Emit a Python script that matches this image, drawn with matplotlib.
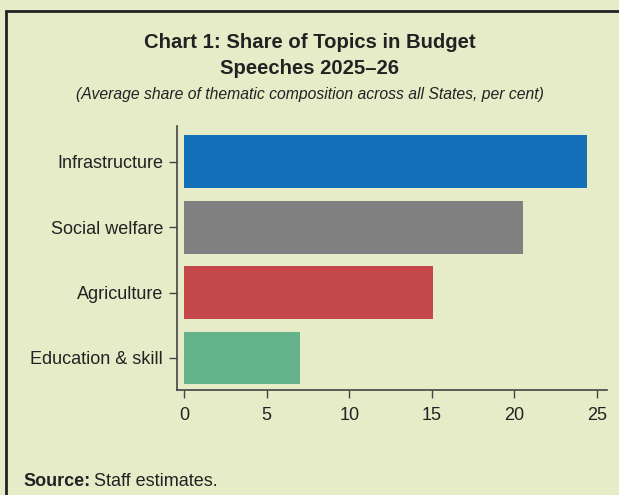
import matplotlib.pyplot as plt
from matplotlib.patches import Rectangle

plt.rcParams['font.family'] = ['Liberation Sans', 'DejaVu Sans']

temas = ['Education & skill', 'Agriculture', 'Social welfare', 'Infrastructure']
participacion = [7.0, 15.1, 20.5, 24.4]
colores = ['#65B38B', '#C4474A', '#808080', '#1370B9']
xticks = [0, 5, 10, 15, 20, 25]

fondo = '#E6EBC8'
texto = '#222222'

fig = plt.figure(figsize=(6.19, 4.95), dpi=100, facecolor=fondo)

# marco exterior del recuadro
fig.add_artist(Rectangle((6 / 619, -0.1), 1.2, (495 - 11) / 495 + 0.1,
                         transform=fig.transFigure, fill=False,
                         edgecolor='#222222', linewidth=2))

ax = fig.add_axes([177 / 619, (495 - 390) / 495, (607 - 177) / 619, (390 - 126) / 495])
ax.set_facecolor(fondo)
ax.barh(range(len(temas)), participacion, height=0.81, color=colores)

ax.set_xlim(-0.42, 25.6)
ax.set_ylim(-0.49, 3.55)
ax.set_xticks(xticks)
ax.set_yticks(range(len(temas)))
ax.set_yticklabels(temas)
for s in ['top', 'right']:
    ax.spines[s].set_visible(False)
for s in ['left', 'bottom']:
    ax.spines[s].set_color('#444444')
    ax.spines[s].set_linewidth(1.2)
ax.tick_params(colors='#444444', labelcolor=texto, labelsize=13, length=6, width=1)
ax.tick_params(axis='y', pad=4)
ax.tick_params(axis='x', pad=6)

fig.text(0.5, (495 - 43) / 495, 'Chart 1: Share of Topics in Budget', ha='center', va='center',
         fontsize=14.6, fontweight='bold', color=texto)
fig.text(0.5, (495 - 69) / 495, 'Speeches 2025\u201326', ha='center', va='center',
         fontsize=14.6, fontweight='bold', color=texto)
fig.text(0.5, (495 - 94) / 495,
         '(Average share of thematic composition across all States, per cent)',
         ha='center', va='center', fontsize=11.3, style='italic', color=texto)

# nota de fuente: parte en negrita y parte normal
fuente = fig.text(23 / 619, (495 - 481) / 495, 'Source:', ha='left', va='center',
                  fontsize=13, fontweight='bold', color=texto)
fig.canvas.draw()
bb = fuente.get_window_extent()
fig.text((bb.x1 + 4) / 619, (495 - 481) / 495, 'Staff estimates.', ha='left', va='center',
         fontsize=13, color=texto)

fig.savefig('out.png', dpi=100, facecolor=fondo)
